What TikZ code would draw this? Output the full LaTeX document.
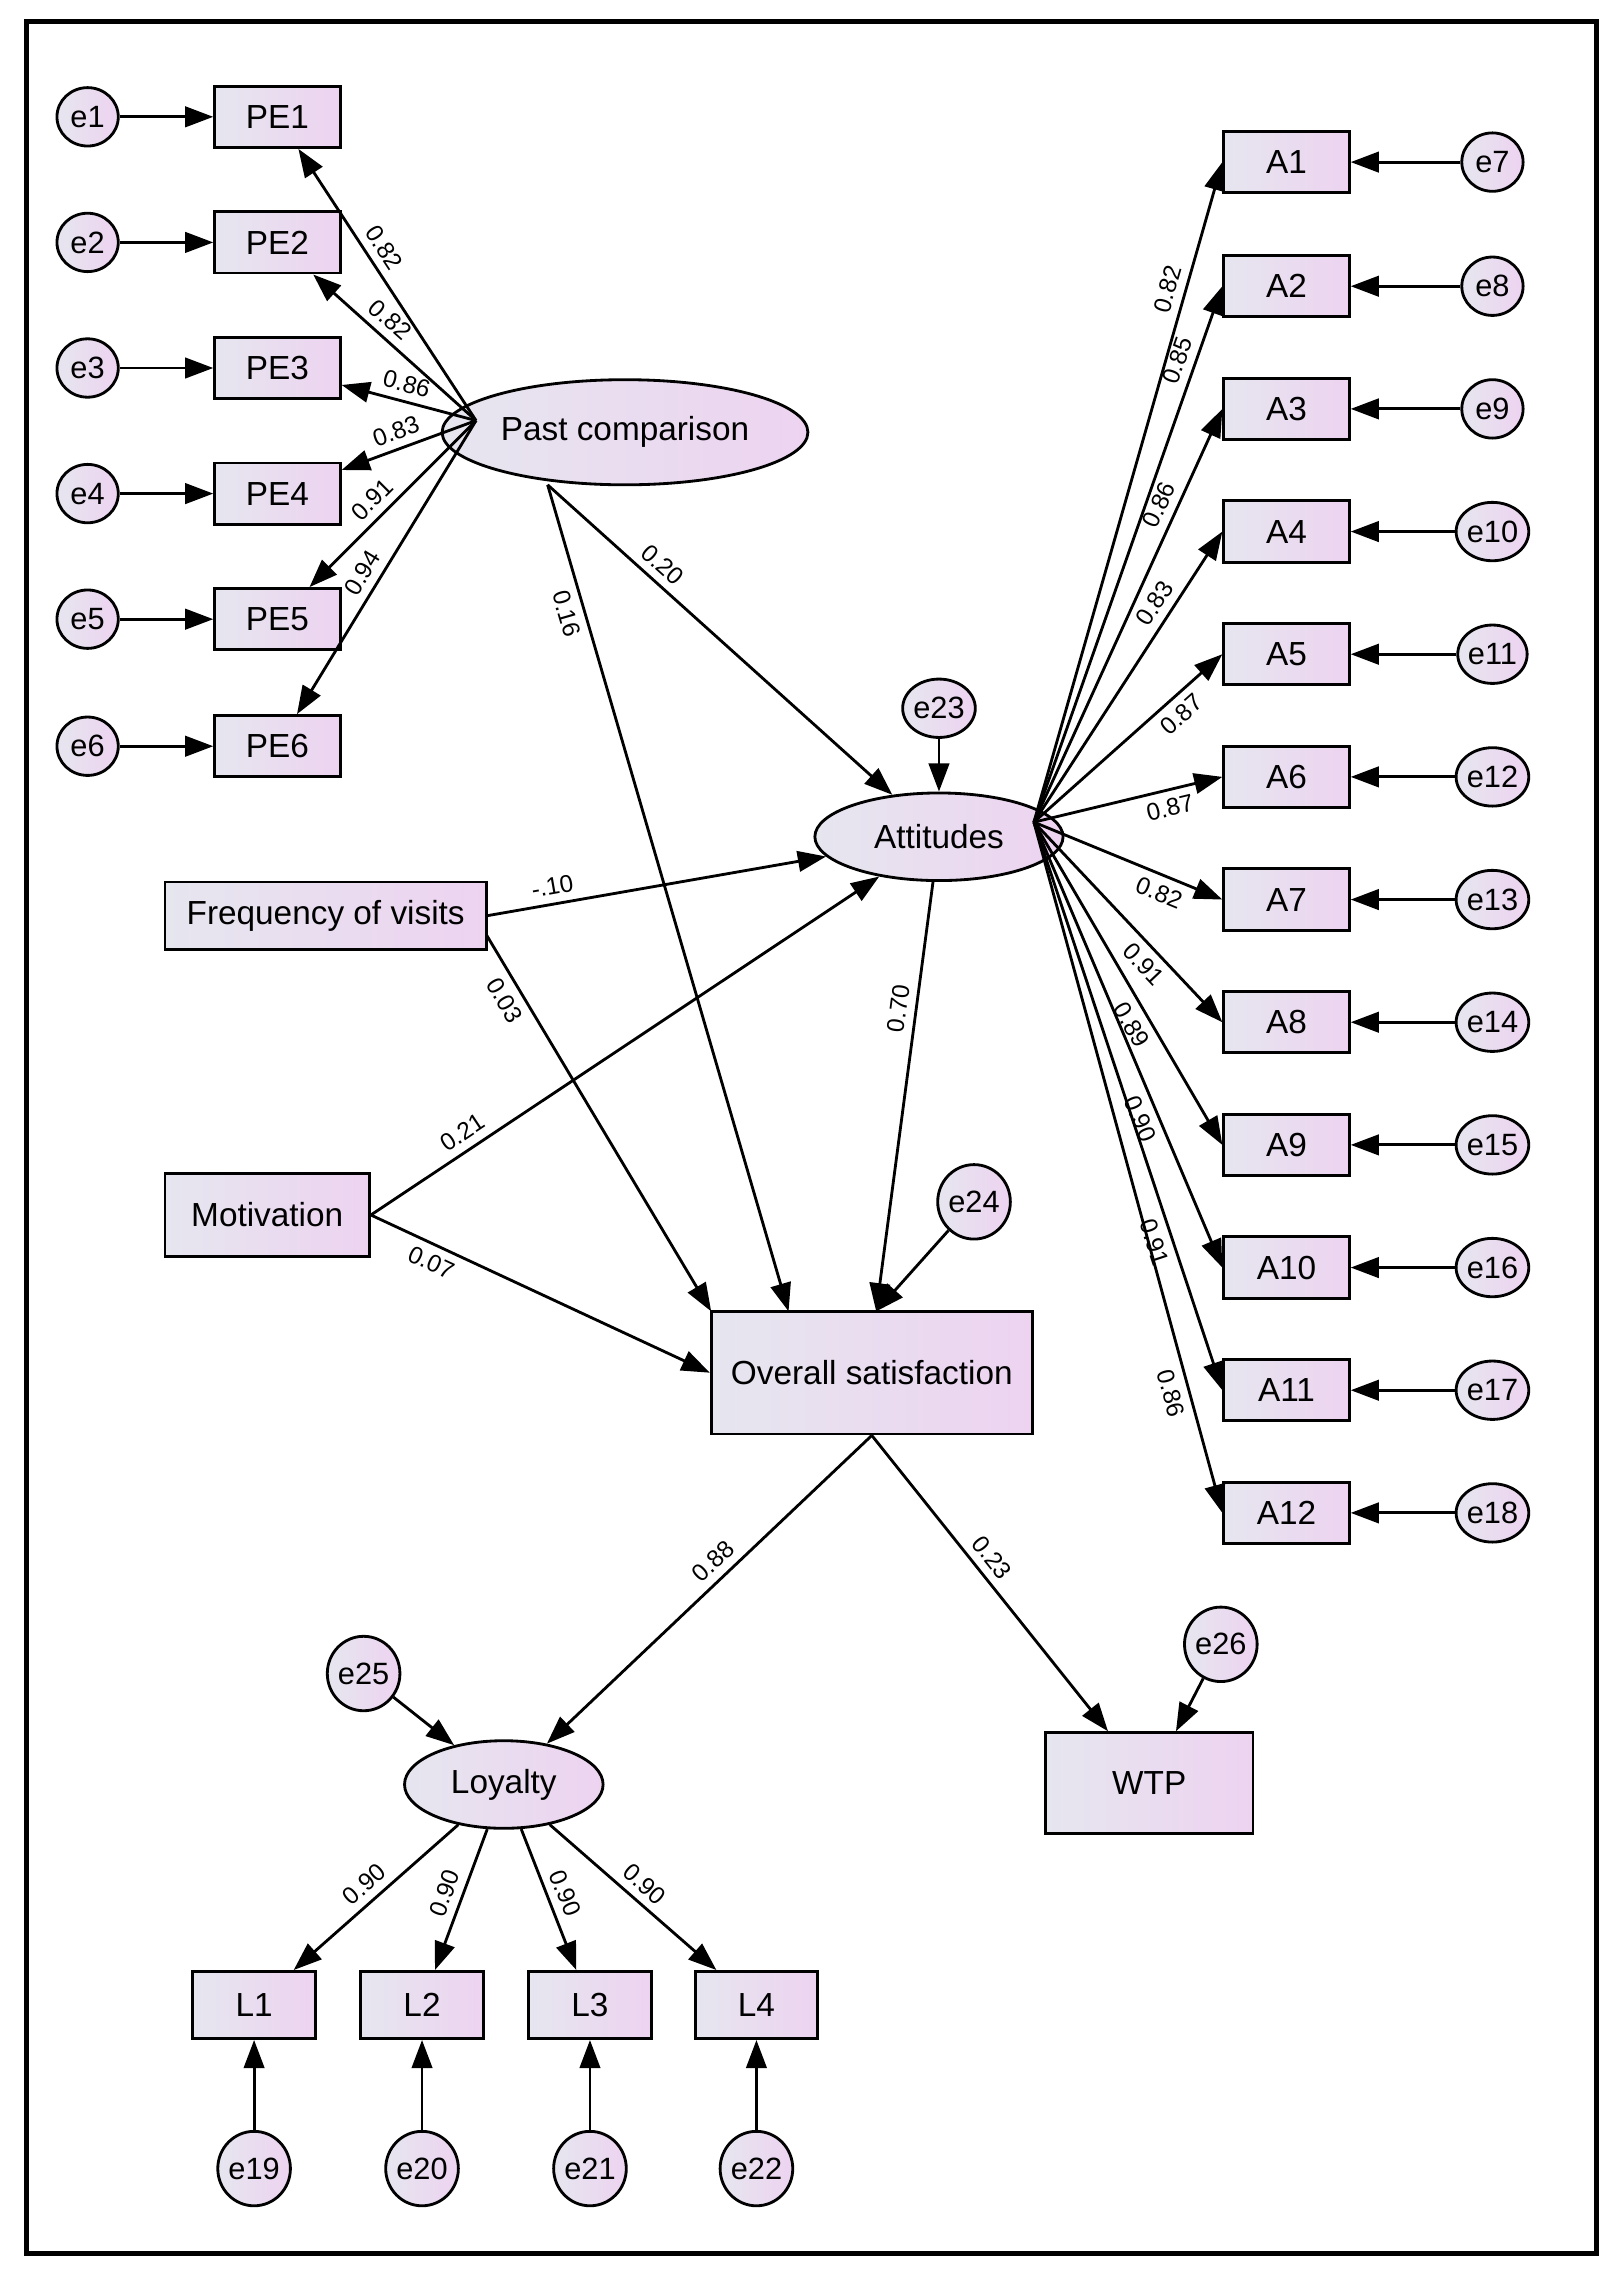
\documentclass[tikz,border=0pt]{standalone}
\usepackage{fontspec}
\setmainfont{Liberation Sans}
\usetikzlibrary{arrows.meta,shapes.geometric}
\definecolor{lavA}{HTML}{E6E6EF}
\definecolor{lavB}{HTML}{EDD3F0}
\tikzset{
 grad/.style={left color=lavA,right color=lavB,draw=black,line width=1.1pt},
 err/.style={grad,ellipse,minimum width=0.84cm,minimum height=0.8cm,inner sep=0pt,font=\fontsize{12}{12}\selectfont},
 ebig/.style={err,minimum width=0.92cm,minimum height=1.02cm},
 box/.style={grad,rectangle,minimum width=1.72cm,minimum height=0.84cm,inner sep=2pt,font=\fontsize{13}{13}\selectfont},
 lat/.style={grad,ellipse,inner sep=2pt,font=\fontsize{13}{13}\selectfont},
 arr/.style={line width=1.1pt,-{Triangle[length=11pt,width=8pt]}},
 lb/.style={font=\fontsize{9.5}{9.5}\selectfont,sloped,inner sep=3pt}
}
\begin{document}
\begin{tikzpicture}[x=0.02cm,y=-0.02cm]
\useasboundingbox (0,0) rectangle (1110,1562);
\fill[white] (0,0) rectangle (1110,1562);
\draw[line width=2pt] (18,15) rectangle (1093,1543);
% Past comparison block
\node[lat,minimum width=4.4cm,minimum height=1.44cm] (pc) at (428,296) {Past comparison};
\coordinate (pcp) at (326,288);
\foreach \i/\y in {1/80,2/166,3/252,4/338,5/424,6/511}{
 \node[err] (e\i) at (60,\y) {e\i};
 \node[box] (PE\i) at (190,\y) {PE\i};
 \draw[arr] (e\i) -- (PE\i);
}
\draw[arr] (pcp) -- (PE1) node[lb,pos=0.6,above]{0.82};
\draw[arr] (pcp) -- (PE2) node[lb,pos=0.6,above]{0.82};
\draw[arr] (pcp) -- (PE3) node[lb,pos=0.55,above]{0.86};
\draw[arr] (pcp) -- (PE4) node[lb,pos=0.55,above]{0.83};
\draw[arr] (pcp) -- (PE5) node[lb,pos=0.55,above]{0.91};
\draw[arr] (pcp) -- (PE6) node[lb,pos=0.55,above]{0.94};
% Attitudes block
\node[lat,minimum width=3.4cm,minimum height=1.2cm] (att) at (643,573) {Attitudes};
\coordinate (attp) at (708,563);
\foreach \i/\y/\e in {1/111/7,2/196/8,3/280/9,4/364/10,5/448/11,6/532/12,7/616/13,8/700/14,9/784/15,10/868/16,11/952/17,12/1036/18}{
 \node[box] (A\i) at (881,\y) {A\i};
 \node[err] (e\e) at (1022,\y) {e\e};
 \draw[arr] (e\e) -- (A\i);
}
\draw[arr] (attp) -- (A1.west) node[lb,pos=0.8,above]{0.82};
\draw[arr] (attp) -- (A2.west) node[lb,pos=0.85,above]{0.85};
\draw[arr] (attp) -- (A3.west) node[lb,pos=0.75,above]{0.86};
\draw[arr] (attp) -- (A4.west) node[lb,pos=0.72,above]{0.83};
\draw[arr] (attp) -- (A5.west) node[lb,pos=0.72,below]{0.87};
\draw[arr] (attp) -- (A6.west) node[lb,pos=0.7,below]{0.87};
\draw[arr] (attp) -- (A7.west) node[lb,pos=0.7,below]{0.82};
\draw[arr] (attp) -- (A8.west) node[lb,pos=0.65,below]{0.91};
\draw[arr] (attp) -- (A9.west) node[lb,pos=0.6,below]{0.89};
\draw[arr] (attp) -- (A10.west) node[lb,pos=0.65,below]{0.90};
\draw[arr] (attp) -- (A11.west) node[lb,pos=0.73,below]{0.91};
\draw[arr] (attp) -- (A12.west) node[lb,pos=0.82,below]{0.86};
\node[err] (e23) at (643,485) {e23};
\draw[arr] (e23) -- (att);
% middle
\node[box,minimum width=4.4cm,minimum height=0.92cm] (fv) at (223,627) {Frequency of visits};
\node[box,minimum width=2.8cm,minimum height=1.14cm] (mot) at (183,832) {Motivation};
\node[box,minimum width=4.4cm,minimum height=1.68cm] (os) at (597,940) {Overall satisfaction};
\node[ebig] (e24) at (667,823) {e24};
\coordinate (pcb) at (375,332);
\coordinate (os1) at (540,898);
\coordinate (os2) at (487,898);
\coordinate (os3) at (600,898);
\coordinate (fvb) at (333,640);
\draw[arr] (pcb) -- (att) node[lb,pos=0.3,above]{0.20};
\draw[arr] (pcb) -- (os1) node[lb,pos=0.15,below]{0.16};
\draw[arr] (fv.east) -- (att) node[lb,pos=0.2,above]{-.10};
\draw[arr] (fvb) -- (os2) node[lb,pos=0.15,below]{0.03};
\draw[arr] (mot.east) -- (att) node[lb,pos=0.2,above]{0.21};
\draw[arr] (mot.east) -- (os.west) node[lb,pos=0.2,below]{0.07};
\draw[arr] (att) -- (os3) node[lb,pos=0.3,above]{0.70};
\draw[arr] (e24) -- (os3);
% bottom
\node[lat,minimum width=2.72cm,minimum height=1.2cm] (loy) at (345,1222) {Loyalty};
\node[box,minimum width=2.84cm,minimum height=1.38cm] (wtp) at (787,1221) {WTP};
\node[ebig] (e25) at (249,1146) {e25};
\node[ebig] (e26) at (836,1126) {e26};
\draw[arr] (os.south) -- (loy) node[lb,pos=0.45,above]{0.88};
\draw[arr] (os.south) -- (wtp) node[lb,pos=0.45,above]{0.23};
\draw[arr] (e25) -- (loy);
\draw[arr] (e26) -- (wtp);
\foreach \i/\x/\e in {1/174/19,2/289/20,3/404/21,4/518/22}{
 \node[box,minimum width=1.68cm,minimum height=0.92cm] (L\i) at (\x,1373) {L\i};
 \node[ebig] (e\e) at (\x,1485) {e\e};
 \draw[arr] (e\e) -- (L\i);
}
\draw[arr] (loy) -- (L1) node[lb,pos=0.5,above]{0.90};
\draw[arr] (loy) -- (L2) node[lb,pos=0.5,above]{0.90};
\draw[arr] (loy) -- (L3) node[lb,pos=0.5,above]{0.90};
\draw[arr] (loy) -- (L4) node[lb,pos=0.5,above]{0.90};
\end{tikzpicture}
\end{document}
